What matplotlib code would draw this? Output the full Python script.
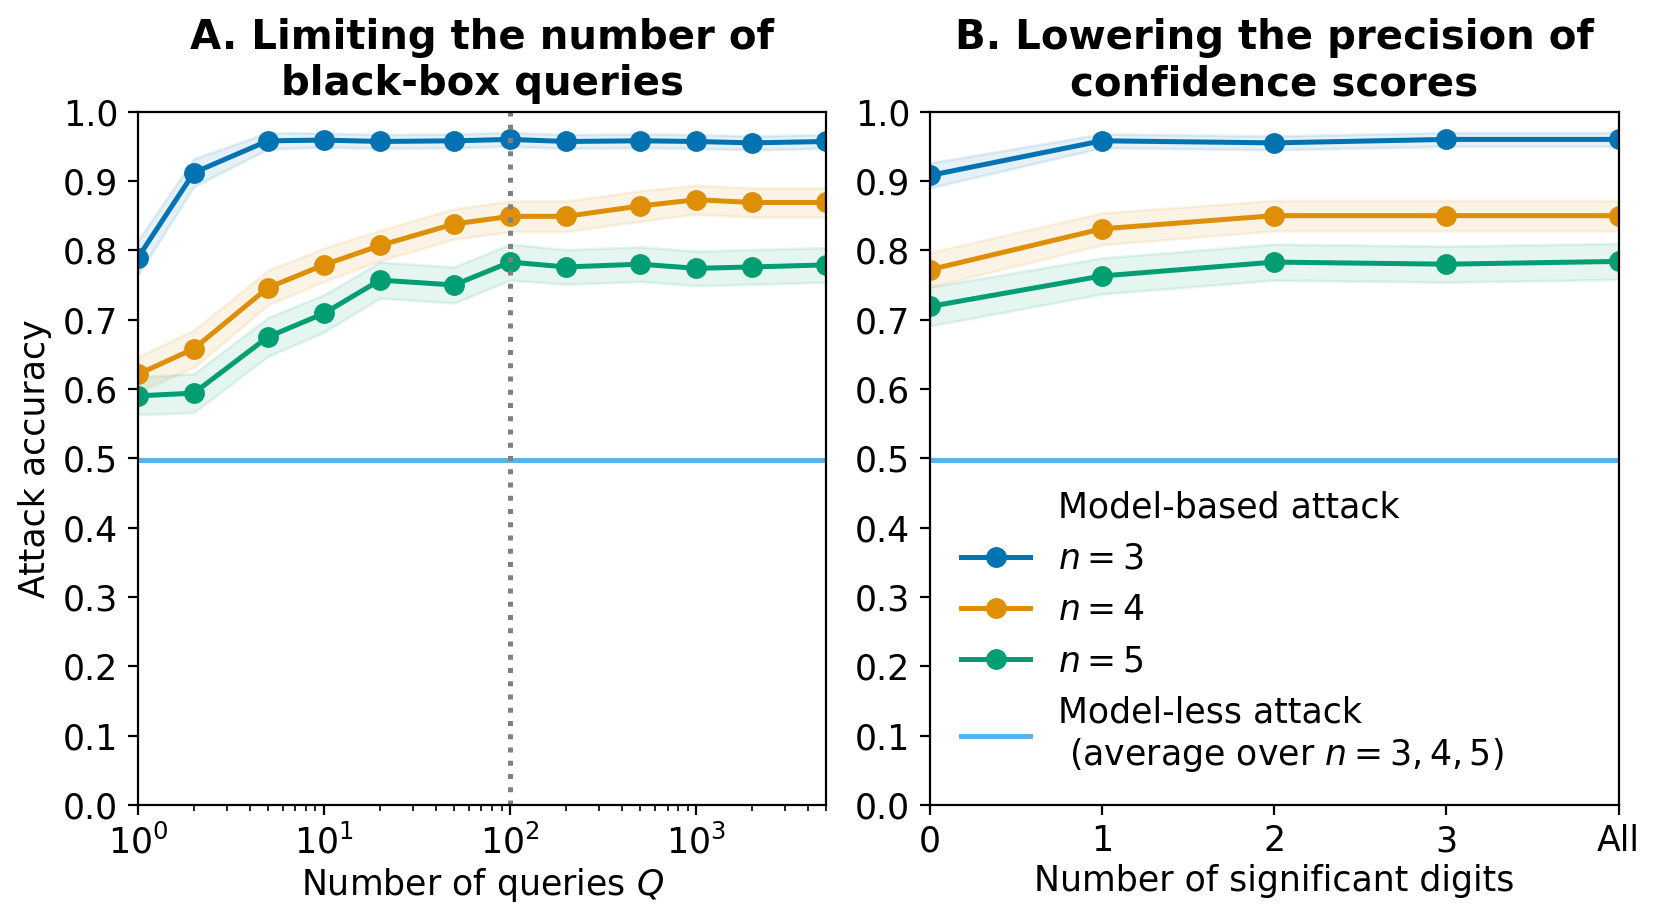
#!/usr/bin/env python3

import matplotlib
matplotlib.use("Agg")
import matplotlib.pyplot as plt
import numpy as np
from matplotlib.lines import Line2D

# Panel A: number of black-box queries
queries = [1, 2, 5, 10, 20, 50, 100, 200, 500, 1000, 2000, 5000]
acc_q_n3 = [0.789, 0.912, 0.958, 0.959, 0.957, 0.958, 0.960, 0.957, 0.958, 0.957, 0.955, 0.957]
acc_q_n4 = [0.621, 0.658, 0.746, 0.779, 0.807, 0.838, 0.849, 0.849, 0.864, 0.873, 0.869, 0.869]
acc_q_n5 = [0.590, 0.594, 0.675, 0.709, 0.757, 0.750, 0.783, 0.776, 0.780, 0.774, 0.776, 0.779]
err_q_n3 = [0.025, 0.020, 0.012, 0.010, 0.010, 0.010, 0.010, 0.010, 0.010, 0.010, 0.010, 0.010]
err_q_n4 = [0.025, 0.027, 0.025, 0.024, 0.022, 0.022, 0.022, 0.022, 0.022, 0.021, 0.021, 0.021]
err_q_n5 = [0.027, 0.028, 0.028, 0.027, 0.026, 0.026, 0.026, 0.025, 0.025, 0.025, 0.025, 0.025]

# Panel B: number of significant digits
digits = [0, 1, 2, 3, 4]
digit_labels = ["0", "1", "2", "3", "All"]
acc_d_n3 = [0.908, 0.958, 0.955, 0.960, 0.960]
acc_d_n4 = [0.772, 0.831, 0.850, 0.850, 0.850]
acc_d_n5 = [0.719, 0.763, 0.783, 0.780, 0.784]
err_d_n3 = [0.018, 0.010, 0.010, 0.010, 0.010]
err_d_n4 = [0.025, 0.023, 0.022, 0.022, 0.022]
err_d_n5 = [0.028, 0.026, 0.026, 0.026, 0.026]

modelless_acc = 0.497
default_queries = 100

colors = ["#0173b2", "#de8f05", "#029e73"]
modelless_color = "#56b4e9"

plt.rcParams.update({
    "font.size": 12.5,
    "mathtext.fontset": "dejavusans",
})


def plot_panel(ax, x, series, errs):
    for acc, err, c in zip(series, errs, colors):
        acc = np.array(acc)
        err = np.array(err)
        ax.fill_between(x, acc - err, acc + err, color=c, alpha=0.1, linewidth=1)
        ax.plot(x, acc, color=c, marker="o", markersize=6.5, linewidth=1.8)
    ax.axhline(modelless_acc, color=modelless_color, linewidth=1.8)
    ax.set_ylim(0, 1)
    ax.set_yticks(np.arange(0, 1.01, 0.1))


fig, (ax_q, ax_d) = plt.subplots(1, 2, figsize=(8.3, 4.615), dpi=200)
fig.subplots_adjust(left=0.083, right=0.975, bottom=0.128, top=0.879, wspace=0.15)

plot_panel(ax_q, queries, [acc_q_n3, acc_q_n4, acc_q_n5], [err_q_n3, err_q_n4, err_q_n5])
ax_q.axvline(default_queries, color="gray", linestyle=":", linewidth=1.8)
ax_q.set_xscale("log")
ax_q.set_xlim(queries[0], queries[-1])
ax_q.set_xlabel("Number of queries $Q$", labelpad=2)
ax_q.set_ylabel("Attack accuracy")
ax_q.set_title("A. Limiting the number of\nblack-box queries", fontweight="bold", fontsize=14.5)

plot_panel(ax_d, digits, [acc_d_n3, acc_d_n4, acc_d_n5], [err_d_n3, err_d_n4, err_d_n5])
ax_d.set_xlim(digits[0], digits[-1])
ax_d.set_xticks(digits)
ax_d.set_xticklabels(digit_labels)
ax_d.set_xlabel("Number of significant digits", labelpad=2)
ax_d.set_title("B. Lowering the precision of\nconfidence scores", fontweight="bold", fontsize=14.5)

# Custom legend
handles = [Line2D([], [], linestyle="none")]
handles += [Line2D([0], [0], color=c, marker="o", markersize=6.5, linewidth=1.8) for c in colors]
handles += [Line2D([0], [0], color=modelless_color, linewidth=1.8)]
labels = ["Model-based attack", "$n = 3$", "$n = 4$", "$n = 5$",
          "Model-less attack\n (average over $n = 3, 4, 5$)"]
ax_d.legend(handles, labels, loc="lower left", bbox_to_anchor=(0.0, 0.0),
            frameon=False, handlelength=2.0)

fig.savefig("out.png", dpi=200)
